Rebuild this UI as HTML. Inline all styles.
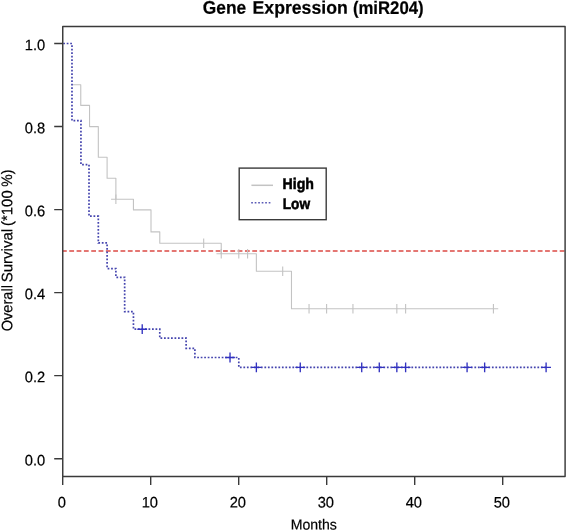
<!DOCTYPE html>
<html><head><meta charset="utf-8"><title>Gene Expression (miR204)</title>
<style>
html,body{margin:0;padding:0;background:#fff;}
body{width:567px;height:531px;overflow:hidden;font-family:"Liberation Sans",sans-serif;}
</style></head><body>
<svg width="567" height="531" viewBox="0 0 567 531" style="will-change:transform;text-rendering:geometricPrecision;display:block;font-family:'Liberation Sans',sans-serif">
<rect width="567" height="531" fill="#fff"/>
<path d="M62.75,251.10H565.10" stroke="#dc4a44" stroke-width="1.5" stroke-dasharray="4.8 2.52" stroke-dashoffset="0.8" fill="none"/>
<path d="M71.98,84.70 H80.76 V105.40 H89.54 V126.60 H98.32 V157.30 H107.10 V178.30 H115.88 V199.30 H133.44 V209.90 H151.00 V231.90 H159.78 V243.20 H221.24 V253.70 H256.36 V271.30 H291.48 V308.80 H493.42" stroke="#c3c3c3" stroke-width="1.1" fill="none" stroke-linejoin="round"/>
<path d="M115.88,194.50V204.10M111.08,199.30H115.38M203.68,238.40V248.00M221.24,248.90V258.50M216.44,253.70H220.74M238.80,248.90V258.50M247.58,248.90V258.50M282.70,266.50V276.10M309.04,304.00V313.60M326.60,304.00V313.60M352.94,304.00V313.60M396.84,304.00V313.60M405.62,304.00V313.60M493.42,304.00V313.60M493.92,308.80H498.22" stroke="#c3c3c3" stroke-width="1.1" fill="none"/>
<path d="M63.20,43.50 H71.98 V120.70 H80.94 V164.60 H89.01 V216.20 H98.32 V242.90 H107.10 V268.60 H115.88 V277.30 H124.66 V311.70 H133.44 V329.20 H159.78 V338.20 H186.12 V348.30 H194.90 V357.50 H238.80 V367.30 H546.10" stroke="#4444ae" stroke-width="1.7" stroke-dasharray="1.75 1.75" fill="none"/>
<path d="M137.32,329.20H147.12M142.22,324.30V334.10M225.12,357.50H234.92M230.02,352.60V362.40M251.46,367.30H261.26M256.36,362.40V372.20M295.36,367.30H305.16M300.26,362.40V372.20M356.82,367.30H366.62M361.72,362.40V372.20M374.38,367.30H384.18M379.28,362.40V372.20M391.94,367.30H401.74M396.84,362.40V372.20M400.72,367.30H410.52M405.62,362.40V372.20M462.18,367.30H471.98M467.08,362.40V372.20M479.74,367.30H489.54M484.64,362.40V372.20M541.20,367.30H551.00M546.10,362.40V372.20" stroke="#3232c0" stroke-width="1.35" fill="none"/>
<rect x="62.75" y="26.4" width="502.35" height="450.00" fill="none" stroke="#3a3a3a" stroke-width="1.45" stroke-linejoin="round"/>
<path d="M62.75,458.70H54.2M62.75,375.66H54.2M62.75,292.62H54.2M62.75,209.58H54.2M62.75,126.54H54.2M62.75,43.50H54.2M62.70,476.40V484.9M150.70,476.40V484.9M238.70,476.40V484.9M326.70,476.40V484.9M414.70,476.40V484.9M502.70,476.40V484.9" stroke="#3a3a3a" stroke-width="1.4" fill="none"/>
<text transform="translate(45.20,465.40) matrix(1,0.0005,0,1.04,0,0)" font-size="14.7" text-anchor="end" fill="#000" stroke="#000" stroke-width="0.2" >0.0</text>
<text transform="translate(45.20,382.36) matrix(1,0.0005,0,1.04,0,0)" font-size="14.7" text-anchor="end" fill="#000" stroke="#000" stroke-width="0.2" >0.2</text>
<text transform="translate(45.20,299.32) matrix(1,0.0005,0,1.04,0,0)" font-size="14.7" text-anchor="end" fill="#000" stroke="#000" stroke-width="0.2" >0.4</text>
<text transform="translate(45.20,216.28) matrix(1,0.0005,0,1.04,0,0)" font-size="14.7" text-anchor="end" fill="#000" stroke="#000" stroke-width="0.2" >0.6</text>
<text transform="translate(45.20,133.24) matrix(1,0.0005,0,1.04,0,0)" font-size="14.7" text-anchor="end" fill="#000" stroke="#000" stroke-width="0.2" >0.8</text>
<text transform="translate(45.20,50.20) matrix(1,0.0005,0,1.04,0,0)" font-size="14.7" text-anchor="end" fill="#000" stroke="#000" stroke-width="0.2" >1.0</text>
<text transform="translate(61.80,507.55) matrix(1,0.0005,0,1.04,0,0)" font-size="14.7" text-anchor="middle" fill="#000" stroke="#000" stroke-width="0.2" >0</text>
<text transform="translate(149.80,507.55) matrix(1,0.0005,0,1.04,0,0)" font-size="14.7" text-anchor="middle" fill="#000" stroke="#000" stroke-width="0.2" >10</text>
<text transform="translate(237.80,507.55) matrix(1,0.0005,0,1.04,0,0)" font-size="14.7" text-anchor="middle" fill="#000" stroke="#000" stroke-width="0.2" >20</text>
<text transform="translate(325.80,507.55) matrix(1,0.0005,0,1.04,0,0)" font-size="14.7" text-anchor="middle" fill="#000" stroke="#000" stroke-width="0.2" >30</text>
<text transform="translate(413.80,507.55) matrix(1,0.0005,0,1.04,0,0)" font-size="14.7" text-anchor="middle" fill="#000" stroke="#000" stroke-width="0.2" >40</text>
<text transform="translate(501.80,507.55) matrix(1,0.0005,0,1.04,0,0)" font-size="14.7" text-anchor="middle" fill="#000" stroke="#000" stroke-width="0.2" >50</text>
<text transform="translate(290.69,529.40) matrix(1,0.0005,0,1.04,0,0)" font-size="14.0" text-anchor="start" fill="#000" stroke="#000" stroke-width="0.2" textLength="46.23" lengthAdjust="spacingAndGlyphs">Months</text>
<text transform="translate(12.20,331.30) rotate(-90) matrix(1,0.0005,0,1.04,0,0)" font-size="14.6" text-anchor="start" fill="#000" stroke="#000" stroke-width="0.2" textLength="46.26" lengthAdjust="spacingAndGlyphs">Overall</text>
<text transform="translate(12.20,282.24) rotate(-90) matrix(1,0.0005,0,1.04,0,0)" font-size="14.6" text-anchor="start" fill="#000" stroke="#000" stroke-width="0.2" textLength="53.35" lengthAdjust="spacingAndGlyphs">Survival</text>
<text transform="translate(12.20,225.97) rotate(-90) matrix(1,0.0005,0,1.04,0,0)" font-size="14.6" text-anchor="start" fill="#000" stroke="#000" stroke-width="0.2" textLength="35.65" lengthAdjust="spacingAndGlyphs">(*100</text>
<text transform="translate(12.20,186.77) rotate(-90) matrix(1,0.0005,0,1.04,0,0)" font-size="14.6" text-anchor="start" fill="#000" stroke="#000" stroke-width="0.2" textLength="17.12" lengthAdjust="spacingAndGlyphs">%)</text>
<text transform="translate(202.74,13.70) matrix(1,0.0005,0,1.04,0,0)" font-size="17.6" text-anchor="start" fill="#000" stroke="#000" stroke-width="0.2" font-weight="bold" textLength="43.41" lengthAdjust="spacingAndGlyphs">Gene</text>
<text transform="translate(252.54,13.70) matrix(1,0.0005,0,1.04,0,0)" font-size="17.6" text-anchor="start" fill="#000" stroke="#000" stroke-width="0.2" font-weight="bold" textLength="95.17" lengthAdjust="spacingAndGlyphs">Expression</text>
<text transform="translate(352.89,13.70) matrix(1,0.0005,0,1.04,0,0)" font-size="17.6" text-anchor="start" fill="#000" stroke="#000" stroke-width="0.2" font-weight="bold" textLength="70.76" lengthAdjust="spacingAndGlyphs">(miR204)</text>
<rect x="239.2" y="168.1" width="87" height="51.6" fill="#fff" stroke="#3a3a3a" stroke-width="1.4"/>
<path d="M251.4,185.3H273.0" stroke="#c3c3c3" stroke-width="1.5"/>
<path d="M251.2,202.8H271.6" stroke="#5a5ab6" stroke-width="1.4" stroke-dasharray="1.7 1.8"/>
<text transform="translate(282.61,188.90) matrix(1,0.0005,0,1.04,0,0)" font-size="14.8" text-anchor="start" fill="#000" stroke="#000" stroke-width="0.5" font-weight="bold" textLength="31.39" lengthAdjust="spacingAndGlyphs">High</text>
<text transform="translate(282.73,209.00) matrix(1,0.0005,0,1.04,0,0)" font-size="14.8" text-anchor="start" fill="#000" stroke="#000" stroke-width="0.5" font-weight="bold" textLength="27.39" lengthAdjust="spacingAndGlyphs">Low</text>
</svg>
</body></html>
